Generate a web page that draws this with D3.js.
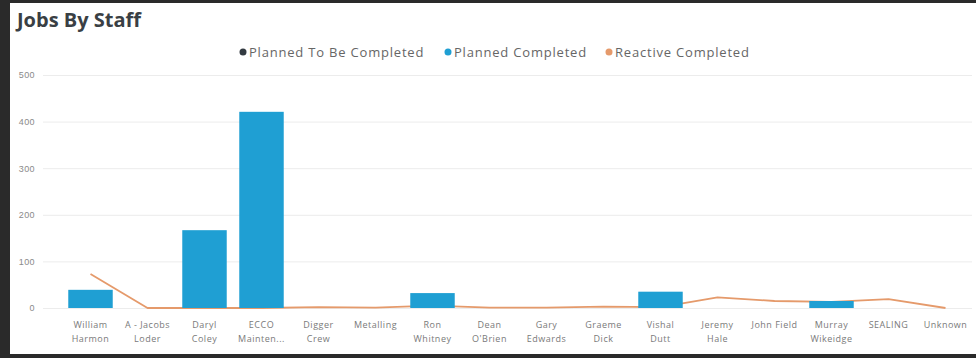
<!DOCTYPE html>
<html>
<head>
<meta charset="utf-8">
<script src="https://cdn.jsdelivr.net/npm/d3@7"></script>
<style>
  html, body { margin: 0; padding: 0; background: #fff; }
  svg { display: block; font-family: "Open Sans", "Noto Sans", sans-serif; }
</style>
</head>
<body>
<svg id="chart" width="976" height="358"></svg>
<script>
// Staff names (two-line labels split on "|")
const staff = [
  "William|Harmon", "A - Jacobs|Loder", "Daryl|Coley", "ECCO|Mainten...",
  "Digger|Crew", "Metalling", "Ron|Whitney", "Dean|O'Brien",
  "Gary|Edwards", "Graeme|Dick", "Vishal|Dutt", "Jeremy|Hale",
  "John Field", "Murray|Wikeidge", "SEALING", "Unknown"
];
const plannedToBeCompleted = [0, 0, 0, 0, 0, 0, 0, 0, 0, 0, 0, 0, 0, 0, 0, 0];
const plannedCompleted     = [39, 0, 167, 421, 0, 0, 32, 0, 0, 0, 35, 0, 0, 15, 0, 0];
const reactiveCompleted    = [73, 0, 0, 0, 2, 1, 5, 1, 1, 3, 2, 23, 15, 13, 19, 0];
const yTicks = [0, 100, 200, 300, 400, 500];
const seriesNames = ["Planned To Be Completed", "Planned Completed", "Reactive Completed"];
const seriesColors = ["#333a41", "#1f9fd3", "#e59a6b"];

const svg = d3.select("#chart");
const W = 976, H = 358;

// Frame of the dashboard tile
svg.append("rect").attr("x", 0).attr("y", 0).attr("width", W).attr("height", H).attr("fill", "#2a2a2a");
svg.append("rect").attr("x", 10).attr("y", 3).attr("width", W - 10).attr("height", 351).attr("fill", "#ffffff");

// Title
svg.append("text").attr("x", 17).attr("y", 27)
  .attr("font-size", 20).attr("font-weight", 700).attr("fill", "#3a3f44")
  .attr("font-family", "'Open Sans', sans-serif")
  .text("Jobs By Staff");

// Legend
const legend = svg.append("g").attr("font-size", 13).attr("letter-spacing", 0.8);
const legendX = [243, 448, 609];
seriesNames.forEach((name, i) => {
  const g = legend.append("g").attr("transform", `translate(${legendX[i]},52)`);
  g.append("circle").attr("cx", 0).attr("cy", 0).attr("r", 3.5).attr("fill", seriesColors[i]);
  g.append("text").attr("x", 6).attr("y", 4.5).attr("fill", "#666").text(name);
});

// Scales
const x = d3.scaleBand().domain(staff).range([62, 974]).paddingInner(0.22).paddingOuter(0.11);
const y = d3.scaleLinear().domain([0, 500]).range([308, 75]);

// Gridlines and y-axis labels
const yAxis = d3.axisLeft(y).tickValues(yTicks).tickSize(-(972 - 43)).tickPadding(8);
const yg = svg.append("g").attr("transform", "translate(43,0)").call(yAxis);
yg.select(".domain").remove();
yg.selectAll(".tick line").attr("stroke", "#ececec").attr("stroke-width", 1);
yg.selectAll(".tick text").attr("fill", "#8a8a8a").attr("font-size", 9)
  .attr("text-anchor", "end").attr("letter-spacing", 0.4);

// Reactive Completed line (drawn beneath the columns)
const line = d3.line()
  .x((d, i) => x(staff[i]) + x.bandwidth() / 2)
  .y(d => y(d));
svg.append("path").datum(reactiveCompleted)
  .attr("d", line).attr("fill", "none")
  .attr("stroke", seriesColors[2]).attr("stroke-width", 1.8)
  .attr("stroke-linejoin", "round");

// Planned Completed columns
svg.append("g").selectAll("rect").data(staff).join("rect")
  .attr("x", d => x(d))
  .attr("width", x.bandwidth())
  .attr("y", (d, i) => y(plannedCompleted[i]))
  .attr("height", (d, i) => y(0) - y(plannedCompleted[i]))
  .attr("fill", seriesColors[1]);

// Planned To Be Completed (stacked on top, all zero)
svg.append("g").selectAll("rect").data(staff).join("rect")
  .attr("x", d => x(d))
  .attr("width", x.bandwidth())
  .attr("y", (d, i) => y(plannedCompleted[i] + plannedToBeCompleted[i]))
  .attr("height", (d, i) => y(plannedCompleted[i]) - y(plannedCompleted[i] + plannedToBeCompleted[i]))
  .attr("fill", seriesColors[0]);

// X-axis labels
const xg = svg.append("g").attr("font-size", 9).attr("letter-spacing", 0.5).attr("text-anchor", "middle");
staff.forEach(s => {
  const parts = s.split("|");
  const cx = x(s) + x.bandwidth() / 2;
  parts.forEach((p, j) => {
    xg.append("text").attr("x", cx).attr("y", 328 + j * 14).attr("fill", "#7a7a7a").text(p);
  });
});
</script>
</body>
</html>
